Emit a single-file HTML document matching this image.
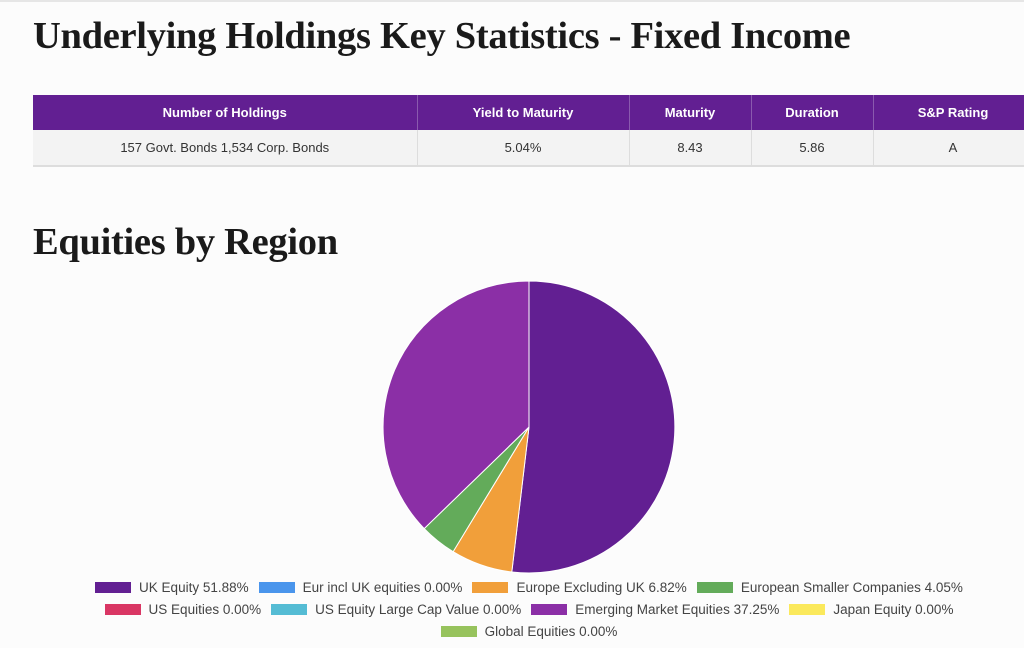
<!DOCTYPE html>
<html><head><style>
body{margin:0;width:1024px;height:648px;background:#fcfcfc;overflow:hidden;position:relative;font-family:"Liberation Sans",sans-serif}
.topline{position:absolute;left:0;top:0;width:1024px;height:2px;background:#e6e6e6}
h1{position:absolute;margin:0;font-family:"Liberation Serif",serif;font-weight:bold;color:#1a1a1a;letter-spacing:-0.3px}
table{position:absolute;left:33px;top:95px;border-collapse:collapse;font-size:13px;table-layout:fixed}
th{background:#621f92;color:#fff;height:35px;font-weight:bold;border-right:1px solid #8a5aae;padding:0}
td{background:#f3f3f3;color:#333;height:35px;text-align:center;border-right:1px solid #ddd;border-bottom:2px solid #ddd;padding:0}
.lg{position:absolute;left:17px;width:1024px;text-align:center;font-size:13.5px;color:#444}
.lg span{display:inline-block;margin:0 5px}
.lg i{display:inline-block;width:36px;height:11px;vertical-align:-1px;margin-right:8px}
</style></head><body>
<div class="topline"></div>
<h1 style="left:33px;top:14px;font-size:38.5px">Underlying Holdings Key Statistics - Fixed Income</h1>
<table style="width:1000px">
<col style="width:384px"><col style="width:212px"><col style="width:122px"><col style="width:122px"><col style="width:160px">
<tr><th>Number of Holdings</th><th>Yield to Maturity</th><th>Maturity</th><th>Duration</th><th>S&amp;P Rating</th></tr>
<tr><td>157 Govt. Bonds 1,534 Corp. Bonds</td><td>5.04%</td><td>8.43</td><td>5.86</td><td>A</td></tr>
</table>
<h1 style="left:33px;top:220px;font-size:38.5px">Equities by Region</h1>
<svg style="position:absolute;left:0;top:0" width="1024" height="648">
<g stroke="#fff" stroke-width="1">
<path d="M529,427 L529,281 A146,146 0 1 1 511.8,572 Z" fill="#621f92"/>
<path d="M529,427 L511.8,572 A146,146 0 0 1 453.1,551.7 Z" fill="#f19f3a"/>
<path d="M529,427 L453.1,551.7 A146,146 0 0 1 424.2,528.6 Z" fill="#63ab5a"/>
<path d="M529,427 L424.2,528.6 A146,146 0 0 1 529,281 Z" fill="#8b2fa6"/>
</g></svg>
<div class="lg" style="top:580px"><span><i style="background:#621f92"></i>UK Equity 51.88%</span><span><i style="background:#4a95ec"></i>Eur incl UK equities 0.00%</span><span><i style="background:#f19f3a"></i>Europe Excluding UK 6.82%</span><span><i style="background:#63ab5a"></i>European Smaller Companies 4.05%</span></div>
<div class="lg" style="top:602px"><span><i style="background:#d93664"></i>US Equities 0.00%</span><span><i style="background:#55bcd4"></i>US Equity Large Cap Value 0.00%</span><span><i style="background:#8b2fa6"></i>Emerging Market Equities 37.25%</span><span><i style="background:#fbe95c"></i>Japan Equity 0.00%</span></div>
<div class="lg" style="top:624px"><span><i style="background:#97c35d"></i>Global Equities 0.00%</span></div>
</body></html>
